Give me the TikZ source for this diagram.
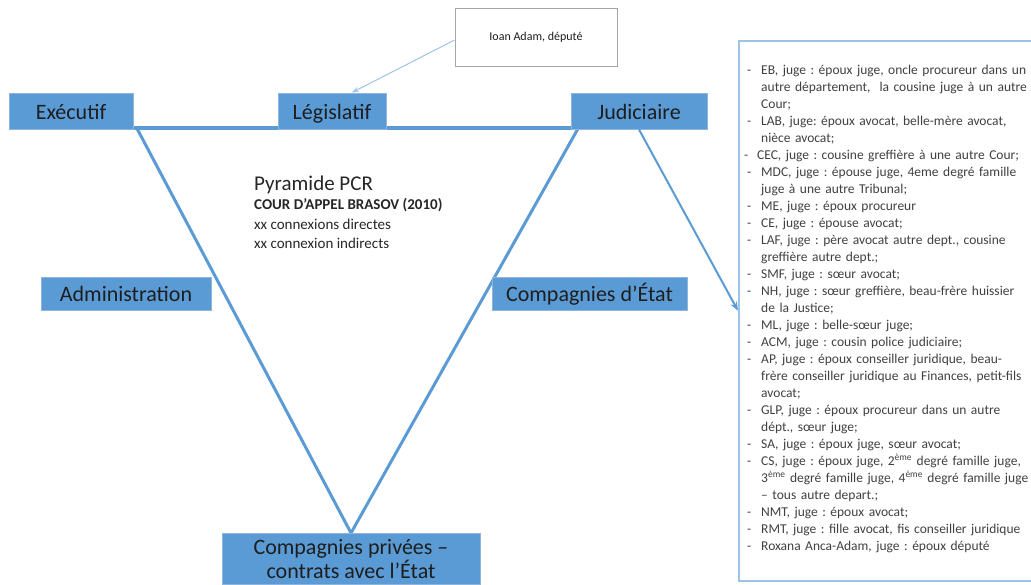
\documentclass[tikz,border=0pt]{standalone}
\usepackage{fontspec}
\setmainfont{Carlito}
\usepackage{tikz}
\usetikzlibrary{
  positioning,
  calc,
  arrows.meta,
  backgrounds
}
\frenchspacing
\definecolor{officeblue}{HTML}{5B9BD5}
\definecolor{paleblue}{HTML}{9DC3E6}
\definecolor{edgeblue}{HTML}{8FB4DE}
\definecolor{inktext}{HTML}{1E1E1E}
\tikzstyle{pouvoir}=[rectangle, fill=officeblue, draw=edgeblue, line width=1pt, text=inktext, font=\fontsize{22}{24}\selectfont, inner sep=0pt, text height=17pt, text depth=1pt]
\tikzstyle{pyramide}=[officeblue, line width=3pt, line cap=round]
\tikzstyle{fleche}=[-{Stealth[length=9pt,width=7pt]}, officeblue, line width=2pt]
\newcommand{\lien}[1]{\hangindent=14pt\hangafter=1\noindent\makebox[14pt][l]{-}#1\par}

\begin{document}
\begin{tikzpicture}[x=1pt,y=-1pt]
    \def\W{1031}   % largeur
    \def\H{584}    % hauteur
    \useasboundingbox (0,0) rectangle (\W,\H);
    \clip (0,0) rectangle (\W,\H);

    % LES TROIS POUVOIRS
    \node[pouvoir, minimum width=124pt, minimum height=36pt] (executif)   at (71,111)  {Exécutif};
    \node[pouvoir, minimum width=108pt, minimum height=36pt] (legislatif) at (332,111) {Législatif};
    \node[pouvoir, minimum width=136pt, minimum height=36pt] (judiciaire) at (639,111) {Judiciaire};

    % député
    \node[draw=black!35, fill=white, line width=0.8pt, minimum width=162pt, minimum height=58pt,
          font=\fontsize{12}{14}\selectfont, text=inktext] (depute) at (536,37) {Ioan Adam, député};

    % niveau intermédiaire
    \node[pouvoir, minimum width=170pt, minimum height=33pt] (administration) at (126,293.5) {Administration};
    \node[pouvoir, minimum width=195pt, minimum height=33pt] (etat)           at (589.5,293.5) {Compagnies d’État};

    % sommet de la pyramide
    \node[pouvoir, anchor=north, minimum width=258pt, inner ysep=6pt, align=center,
          text height=, text depth=] (prive) at (351,533)
      {Compagnies privées –\\contrats avec l’État};

    % TITRE
    \node[anchor=north west, align=left, inner sep=0pt, text=black!85,
          font=\fontsize{15}{19.2}\selectfont] (titre) at (254,176)
      {{\fontsize{21}{21}\selectfont Pyramide PCR}\\
       \textbf{COUR D’APPEL BRASOV (2010)}\\
       xx connexions directes\\
       xx connexion indirects};

    % LISTE DES JUGES
    \node[draw=paleblue, line width=1.5pt, anchor=north west, minimum width=310pt, minimum height=540pt,
          inner sep=0pt] (liste) at (738,40) {};
    \node[anchor=north west, inner sep=0pt, text width=284pt, text=black!75,
          font=\fontsize{13.5}{17}\selectfont] (juges) at (747,65) {%
      \raggedright
      \lien{EB, juge : époux juge, oncle procureur dans un\newline autre département,~ la cousine juge à un autre\newline Cour;}
      \lien{LAB, juge: époux avocat, belle-mère avocat,\newline nièce avocat;}
      \noindent\kern-3pt\makebox[13pt][l]{-}CEC, juge : cousine greffière à une autre Cour;\par
      \lien{MDC, juge : épouse juge, 4eme degré famille\newline juge à une autre Tribunal;}
      \lien{ME, juge : époux procureur}
      \lien{CE, juge : épouse avocat;}
      \lien{LAF, juge : père avocat autre dept., cousine\newline greffière autre dept.;}
      \lien{SMF, juge : sœur avocat;}
      \lien{NH, juge : sœur greffière, beau-frère huissier\newline de la Justice;}
      \lien{ML, juge : belle-sœur juge;}
      \lien{ACM, juge : cousin police judiciaire;}
      \lien{AP, juge : époux conseiller juridique, beau-\newline frère conseiller juridique au Finances, petit-fils\newline avocat;}
      \lien{GLP, juge : époux procureur dans un autre\newline dépt., sœur juge;}
      \lien{SA, juge : époux juge, sœur avocat;}
      \lien{CS, juge : époux juge, 2\textsuperscript{ème} degré famille juge,\newline 3\textsuperscript{ème} degré famille juge, 4\textsuperscript{ème} degré famille juge\newline – tous autre depart.;}
      \lien{NMT, juge : époux avocat;}
      \lien{RMT, juge : fille avocat, fis conseiller juridique}
      \lien{Roxana Anca-Adam, juge : époux député}};

    % PYRAMIDE
    \begin{scope}[on background layer]
      \draw[pyramide, line width=4pt] ([yshift=2pt]executif.south east) -- ([yshift=2pt]judiciaire.south west);
      \draw[pyramide] ([xshift=4pt]executif.south east) -- (prive.north);
      \draw[pyramide] ([xshift=7pt]judiciaire.south west) -- (prive.north);
    \end{scope}

    % FLECHES
    \draw[-{Stealth[length=7pt,width=5pt]}, paleblue, line width=1pt] ([yshift=-3pt]depute.west) -- ([xshift=20pt]legislatif.north);
    \draw[fleche] (judiciaire.south) -- (liste.west);
  \end{tikzpicture}
\end{document}
